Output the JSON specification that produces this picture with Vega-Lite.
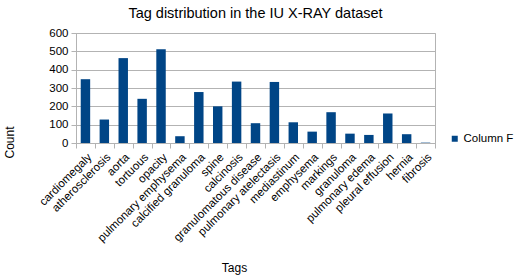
{
  "$schema": "https://vega.github.io/schema/vega-lite/v6.json",
  "width": 359,
  "height": 110,
  "autosize": {"type": "none"},
  "padding": {"left": 76, "top": 33, "right": 79, "bottom": 135},
  "background": "white",
  "config": {
    "font": "Liberation Sans",
    "view": {"stroke": "#b3b3b3", "strokeWidth": 1}
  },
  "title": {
    "text": "Tag distribution in the IU X-RAY dataset",
    "fontSize": 14.5,
    "fontWeight": "normal",
    "font": "Liberation Sans",
    "color": "#000000",
    "anchor": "middle",
    "offset": 6
  },
  "data": {
    "values": [
      {"tag": "cardiomegaly", "count": 348, "series": "Column F"},
      {"tag": "atherosclerosis", "count": 128, "series": "Column F"},
      {"tag": "aorta", "count": 463, "series": "Column F"},
      {"tag": "tortuous", "count": 241, "series": "Column F"},
      {"tag": "opacity", "count": 512, "series": "Column F"},
      {"tag": "pulmonary emphysema", "count": 37, "series": "Column F"},
      {"tag": "calcified granuloma", "count": 278, "series": "Column F"},
      {"tag": "spine", "count": 200, "series": "Column F"},
      {"tag": "calcinosis", "count": 335, "series": "Column F"},
      {"tag": "granulomatous disease", "count": 108, "series": "Column F"},
      {"tag": "pulmonary atelectasis", "count": 333, "series": "Column F"},
      {"tag": "mediastinum", "count": 113, "series": "Column F"},
      {"tag": "emphysema", "count": 62, "series": "Column F"},
      {"tag": "markings", "count": 168, "series": "Column F"},
      {"tag": "granuloma", "count": 51, "series": "Column F"},
      {"tag": "pulmonary edema", "count": 44, "series": "Column F"},
      {"tag": "pleural effusion", "count": 161, "series": "Column F"},
      {"tag": "hernia", "count": 48, "series": "Column F"},
      {"tag": "fibrosis", "count": 2, "series": "Column F"}
    ]
  },
  "mark": {"type": "bar", "width": {"band": 0.5}},
  "encoding": {
    "x": {
      "field": "tag",
      "type": "nominal",
      "sort": null,
      "scale": {"paddingInner": 0, "paddingOuter": 0},
      "axis": {
        "title": "Tags",
        "titleFontSize": 12,
        "titleFontWeight": "normal",
        "titleColor": "#000000",
        "titleX": 158,
        "titleY": 119,
        "titleBaseline": "top",
        "labelAngle": -45,
        "labelAlign": "right",
        "labelBaseline": "top",
        "labelFontSize": 11.5,
        "labelColor": "#000000",
        "labelPadding": 3,
        "labelOverlap": false,
        "labelLimit": 200,
        "tickBand": "extent",
        "tickColor": "#b3b3b3",
        "tickSize": 5,
        "domainColor": "#b3b3b3",
        "grid": false
      }
    },
    "y": {
      "field": "count",
      "type": "quantitative",
      "scale": {"domain": [0, 600], "nice": false},
      "axis": {
        "title": "Count",
        "titleFontSize": 12,
        "titleFontWeight": "normal",
        "titleColor": "#000000",
        "titleX": -60,
        "titleY": 109,
        "values": [0, 100, 200, 300, 400, 500, 600],
        "labelFontSize": 11.5,
        "labelColor": "#000000",
        "labelPadding": 3,
        "tickColor": "#b3b3b3",
        "tickSize": 5,
        "domainColor": "#b3b3b3",
        "gridColor": "#b3b3b3"
      }
    },
    "color": {
      "field": "series",
      "type": "nominal",
      "scale": {"range": ["#004586"]},
      "legend": {
        "title": null,
        "orient": "none",
        "legendX": 373,
        "legendY": 100,
        "padding": 0,
        "symbolType": "square",
        "symbolSize": 36,
        "symbolStrokeWidth": 0,
        "labelOffset": 3,
        "labelFontSize": 11.5,
        "labelColor": "#000000",
        "labelLimit": 200
      }
    }
  }
}
